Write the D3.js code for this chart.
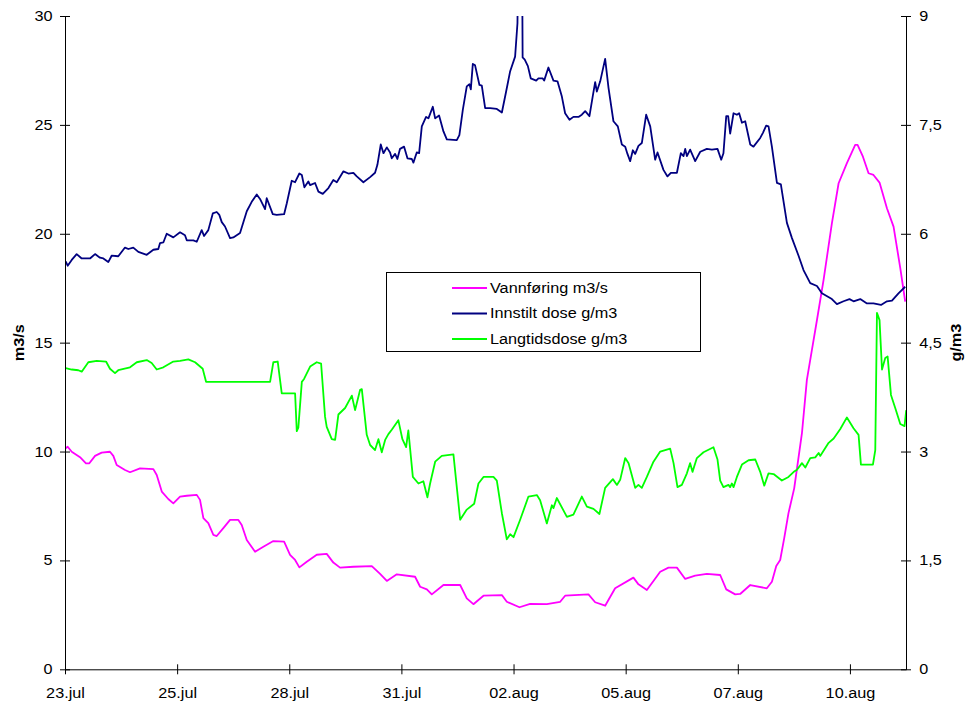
<!DOCTYPE html>
<html>
<head>
<meta charset="utf-8">
<script src="https://cdn.jsdelivr.net/npm/d3@7"></script>
<style>
  body { margin: 0; background: #fff; }
  svg { display: block; }
</style>
</head>
<body>
<div id="chart"></div>
<script>
// Vannføring og dosering, 23.jul - 11.aug
// x = position along the category axis (100 steps between each date label)

const xLabels = ["23.jul", "25.jul", "28.jul", "31.jul", "02.aug", "05.aug", "07.aug", "10.aug"];
const xTickPos = [0, 100, 200, 300, 400, 500, 600, 700];
const leftTicks = [0, 5, 10, 15, 20, 25, 30];
const rightTicks = [0, 1.5, 3, 4.5, 6, 7.5, 9];
const seriesNames = ["Vannføring m3/s", "Innstilt dose g/m3", "Langtidsdose g/m3"];

// Vannføring (m3/s, left axis)
const vannforing = [
  [0.6,10.15],[2.4,10.22],[6,9.99],[13.4,9.74],[18.7,9.46],[21.7,9.46],[26.8,9.80],[32.7,9.95],[40.1,9.99],[43.1,9.80],
  [46.1,9.38],[53.5,9.15],[58,9.05],[66.9,9.23],[78.8,9.19],[81.8,8.92],[86.3,8.16],[92.1,7.82],[96.6,7.62],[102.6,7.93],
  [108.6,7.97],[117.5,8.01],[120.4,7.78],[123.4,6.94],[127.8,6.71],[132.3,6.17],[135.3,6.12],[141.2,6.48],[147.2,6.86],[154.6,6.86],
  [157.6,6.63],[162.1,5.94],[169.5,5.40],[176.9,5.63],[185.8,5.89],[195.4,5.86],[200.7,5.25],[205.2,5.02],[209,4.68],[215.6,4.94],
  [224.5,5.26],[233.4,5.30],[239.3,4.90],[245.3,4.67],[257.2,4.71],[273.6,4.74],[281,4.38],[287,4.06],[295.9,4.36],[312.2,4.25],
  [316.7,3.79],[322.7,3.67],[327.1,3.44],[337.5,3.87],[352.4,3.87],[358.3,3.26],[364.2,2.99],[373.2,3.38],[389.6,3.41],[394,3.10],
  [405.3,2.85],[414.8,3.00],[429.7,2.99],[441.6,3.10],[446,3.38],[466.8,3.44],[472.8,3.08],[481.7,2.92],[490.6,3.72],[506.9,4.21],
  [511.4,3.90],[518.9,3.64],[530.8,4.48],[538.2,4.67],[545.7,4.67],[553.1,4.15],[562,4.30],[572.4,4.38],[584.3,4.33],[589.7,3.67],
  [597.7,3.44],[602.1,3.46],[611.1,3.87],[625.9,3.72],[630.4,4.02],[634.3,4.74],[637.8,5.02],[641.4,6.02],[645.2,7.17],[650.3,8.31],
  [657.2,10.84],[661.6,13.29],[666.1,14.67],[670.6,16.04],[676.5,17.88],[683.9,20.48],[689.9,22.32],[697.3,23.24],[704.7,24.08],[706.8,24.08],
  [711.6,23.54],[716.6,22.78],[721,22.70],[726.4,22.35],[733,21.17],[738.9,20.33],[744.9,18.42],[749.3,16.88]
];

// Innstilt dose (g/m3, right axis)
const innstiltDose = [
  [0.6,5.62],[2.4,5.56],[6,5.64],[10.4,5.72],[14.9,5.66],[19.4,5.66],[22.3,5.66],[26.8,5.72],[31.2,5.67],[34.2,5.66],
  [38.6,5.61],[41.7,5.70],[47.5,5.69],[53.5,5.81],[56.5,5.79],[60.9,5.81],[65.4,5.75],[72.9,5.71],[78.8,5.78],[83.2,5.79],
  [84.7,5.87],[87.7,5.88],[90.7,6.00],[96.6,5.95],[102.6,6.02],[107,5.98],[108.6,5.91],[114.5,5.91],[117.5,5.89],[121.9,6.05],
  [124,5.97],[127.8,6.05],[131.8,6.28],[135.3,6.30],[137.6,6.26],[139.8,6.16],[142.7,6.10],[147.2,5.94],[150.1,5.95],[156.1,6.01],
  [162.1,6.31],[166.5,6.44],[171,6.54],[173.9,6.48],[178.4,6.34],[179.9,6.49],[185.3,6.27],[188.8,6.26],[195.4,6.27],[197.8,6.42],
  [202.2,6.73],[205.2,6.71],[209,6.83],[211.2,6.81],[213.5,6.64],[217,6.72],[218.6,6.67],[223,6.70],[226,6.58],[229.9,6.55],
  [234.9,6.63],[239.3,6.74],[242.4,6.71],[248.3,6.86],[252.7,6.83],[257.2,6.84],[260.2,6.79],[266.1,6.71],[272.1,6.78],[276.5,6.84],
  [278.6,6.95],[281.6,7.23],[284,7.11],[287,7.19],[289.9,7.12],[291.4,7.04],[294.4,7.10],[296.4,7.03],[298.8,7.17],[302.4,7.20],
  [305.4,7.04],[309.3,7.03],[310.7,6.98],[313.7,7.12],[315.8,7.11],[318.2,7.48],[322,7.61],[324.1,7.59],[328,7.75],[330.1,7.59],
  [333.6,7.63],[337.5,7.41],[340.5,7.30],[349.4,7.29],[351.7,7.36],[354.8,7.71],[358.3,8.03],[360.7,8.06],[361.9,7.99],[363.7,8.34],
  [365.7,8.32],[369.6,8.05],[371.7,8.04],[374.7,7.73],[379.1,7.73],[385.1,7.72],[389.6,7.67],[393.4,7.96],[397,8.24],[401.4,8.44],
  [403.5,8.90],[404.2,9.90],[407.6,9.90],[408.1,8.43],[410,8.40],[412.8,8.31],[415.4,8.14],[420.2,8.11],[422.2,8.14],[426.1,8.14],
  [427.3,8.11],[431.1,8.29],[435.6,8.11],[439.2,8.10],[443.1,7.89],[446,7.66],[449.9,7.57],[453.4,7.61],[457.9,7.61],[460.9,7.64],
  [463.9,7.69],[467.7,7.62],[470.7,7.90],[472.8,8.09],[474.3,7.96],[477.3,8.10],[481.7,8.41],[484.7,8.01],[489.1,7.55],[493,7.48],
  [496.6,7.23],[499.6,7.20],[501.6,7.10],[504,7.00],[506.4,7.15],[508.5,7.10],[511.4,7.21],[514.4,7.25],[518.3,7.64],[521.9,7.48],
  [526.3,7.02],[528.4,7.12],[533.7,6.88],[537.3,6.79],[540.3,6.84],[545.7,6.84],[549.2,7.11],[551.6,7.07],[553.1,7.17],[554.6,7.07],
  [557.5,7.16],[562,7.00],[566.5,7.13],[572.4,7.17],[576.9,7.16],[581.9,7.17],[585.2,7.02],[587.2,7.11],[589.7,7.62],[591.4,7.62],
  [593.2,7.38],[596.2,7.66],[599.2,7.64],[601.2,7.66],[603.7,7.53],[606.6,7.55],[611.1,7.23],[614,7.20],[620,7.32],[622.4,7.39],
  [625.3,7.49],[627.4,7.48],[630.4,7.20],[634.9,6.70],[638.4,6.68],[643.8,6.15],[648.3,5.94],[654.1,5.70],[658.6,5.50],[664.6,5.32],
  [670.6,5.28],[675,5.18],[683.9,5.10],[688.4,5.03],[694.3,5.07],[699.6,5.10],[703.2,5.07],[709.2,5.10],[715.2,5.04],[721,5.04],
  [727.7,5.02],[733,5.07],[737.5,5.08],[743.3,5.18],[749.3,5.27]
];

// Langtidsdose (g/m3, right axis)
const langtidsdose = [
  [0.6,4.15],[6,4.13],[11.9,4.12],[14.9,4.10],[20.8,4.23],[28.3,4.25],[36.6,4.24],[40.1,4.14],[44.6,4.08],[47.5,4.12],
  [58,4.16],[64,4.23],[72.9,4.26],[77.3,4.22],[81.8,4.13],[87.7,4.16],[96.6,4.24],[102.6,4.25],[110,4.27],[116,4.23],
  [122.8,4.14],[125.8,3.96],[182.9,3.96],[185.8,4.23],[189.7,4.24],[193.3,3.80],[205.2,3.80],[206.7,3.28],[208.1,3.33],[211.2,3.96],
  [213.2,4.00],[218.6,4.17],[224.5,4.23],[228.4,4.21],[231.9,3.48],[233.4,3.34],[237.9,3.17],[240.9,3.16],[243.8,3.51],[249.8,3.60],
  [255.8,3.77],[258.7,3.57],[263.2,3.85],[264.7,3.86],[269.1,3.23],[272.1,3.09],[276.5,3.02],[279.5,3.17],[282.5,2.99],[285.5,3.16],
  [288.4,3.24],[291.4,3.30],[297.3,3.43],[300.9,3.17],[304.2,3.06],[306.2,3.29],[310.2,2.65],[315.2,2.56],[319.6,2.59],[323.2,2.37],
  [325.6,2.56],[330.1,2.86],[336,2.94],[346.4,2.96],[352.4,2.06],[358.3,2.20],[364.9,2.28],[368.7,2.56],[373.2,2.65],[382.1,2.65],
  [385.1,2.60],[389.6,2.15],[394,1.79],[397,1.86],[400,1.82],[405.9,2.06],[413.3,2.38],[420.8,2.40],[423.7,2.33],[429.7,2.01],
  [434.2,2.26],[435.6,2.22],[438.6,2.36],[447.6,2.10],[453.4,2.13],[460.9,2.38],[465.4,2.24],[471.3,2.21],[476.6,2.14],[481.7,2.50],
  [488.6,2.62],[492.2,2.54],[495.1,2.61],[499.6,2.91],[502.6,2.84],[508.5,2.50],[511.4,2.54],[514.4,2.50],[518.9,2.65],[524.8,2.86],
  [530.8,3.00],[539.7,3.04],[542.7,2.84],[546.2,2.51],[550.1,2.54],[554.6,2.70],[557.5,2.84],[559.6,2.72],[563.5,2.91],[569.4,2.99],
  [578.3,3.06],[581.9,2.89],[584.3,2.60],[587.2,2.51],[591.7,2.54],[593.2,2.51],[594.7,2.56],[596.2,2.51],[599.2,2.65],[603.7,2.82],
  [609.6,2.88],[615.6,2.89],[620,2.72],[623.6,2.53],[627.4,2.70],[631.9,2.69],[639.3,2.60],[645.2,2.65],[649.9,2.72],[652.8,2.75],
  [657.2,2.84],[660.2,2.78],[664.6,2.91],[669.1,2.92],[672.1,2.98],[673.5,2.94],[681,3.12],[685.5,3.18],[691.4,3.31],[697.3,3.47],
  [703.2,3.32],[707.7,3.23],[709.8,2.82],[720.5,2.82],[722.6,3.02],[724.1,4.91],[726.4,4.81],[728.6,4.13],[731.5,4.29],[733.6,4.31],
  [736.6,3.78],[740.4,3.60],[744.9,3.38],[748.7,3.35],[750.2,3.57]
];

// Layout
const width = 966;
const height = 705;
const margin = {top: 16, right: 60, bottom: 35.7, left: 65};
const innerWidth = width - margin.left - margin.right;
const innerHeight = height - margin.top - margin.bottom;
const font = "'Liberation Sans', Arial, sans-serif";
const SX = 1.16; // the text in the original is slightly stretched sideways

// widen a text selection with textLength instead of a transform
function widen(sel) {
    sel.each(function() {
        const w = this.getComputedTextLength();
        this.setAttribute("textLength", (w * SX).toFixed(1));
        this.setAttribute("lengthAdjust", "spacingAndGlyphs");
    });
}

const svg = d3.select("#chart")
    .append("svg")
    .attr("width", width)
    .attr("height", height)
    .style("background", "#fff");

const chart = svg.append("g")
    .attr("transform", `translate(${margin.left}, ${margin.top})`);

// Scales
const xScale = d3.scaleLinear().domain([0, 750]).range([0, innerWidth]);
const yLeft = d3.scaleLinear().domain([0, 30]).range([innerHeight, 0]);
const yRight = d3.scaleLinear().domain([0, 9]).range([innerHeight, 0]);

// Clip so the spike at 02.aug is cut at the top of the plot
svg.append("defs").append("clipPath")
    .attr("id", "plot-clip")
    .append("rect")
    .attr("x", 0).attr("y", 0)
    .attr("width", innerWidth).attr("height", innerHeight);

// Lines
const plot = chart.append("g").attr("clip-path", "url(#plot-clip)");

const lineLeft = d3.line().x(d => xScale(d[0])).y(d => yLeft(d[1]));
const lineRight = d3.line().x(d => xScale(d[0])).y(d => yRight(d[1]));

const series = [
    {data: vannforing, gen: lineLeft, color: "#ff00ff"},
    {data: innstiltDose, gen: lineRight, color: "#000080"},
    {data: langtidsdose, gen: lineRight, color: "#00ff00"}
];

series.forEach(s => {
    plot.append("path")
        .datum(s.data)
        .attr("fill", "none")
        .attr("stroke", s.color)
        .attr("stroke-width", 1.8)
        .attr("stroke-linejoin", "round")
        .attr("d", s.gen);
});

// Axes - ticks cross the axis line like in Excel
function styleAxis(g) {
    g.attr("font-family", font).attr("font-size", 14);
    g.select(".domain").attr("stroke", "#000");
    g.selectAll(".tick line").attr("stroke", "#000");
    g.selectAll(".tick text").attr("fill", "#000");
}

const gx = chart.append("g")
    .attr("transform", `translate(0, ${innerHeight})`)
    .call(d3.axisBottom(xScale)
        .tickValues(xTickPos)
        .tickFormat((d, i) => xLabels[i])
        .tickSize(5)
        .tickSizeOuter(0));
styleAxis(gx);
gx.selectAll(".tick line").attr("y1", -5);
gx.selectAll(".tick text")
    .attr("y", 28.7)
    .attr("dy", 0)
    .call(widen);

const gl = chart.append("g")
    .call(d3.axisLeft(yLeft)
        .tickValues(leftTicks)
        .tickSize(5)
        .tickSizeOuter(0));
styleAxis(gl);
gl.selectAll(".tick line").attr("x1", 5);
gl.selectAll(".tick text")
    .attr("x", -12.5)
    .call(widen);

const gr = chart.append("g")
    .attr("transform", `translate(${innerWidth}, 0)`)
    .call(d3.axisRight(yRight)
        .tickValues(rightTicks)
        .tickFormat(d => String(d).replace(".", ","))
        .tickSize(5)
        .tickSizeOuter(0));
styleAxis(gr);
gr.selectAll(".tick line").attr("x1", -5);
gr.selectAll(".tick text")
    .attr("x", 13.3)
    .call(widen);

// Axis titles
svg.append("text")
    .attr("transform", `translate(24, ${margin.top + innerHeight / 2}) rotate(-90)`)
    .attr("text-anchor", "middle")
    .style("font-family", font)
    .style("font-size", "14px")
    .style("font-weight", "bold")
    .text("m3/s")
    .call(widen);

svg.append("text")
    .attr("transform", `translate(961, ${margin.top + innerHeight / 2}) rotate(-90)`)
    .attr("text-anchor", "middle")
    .style("font-family", font)
    .style("font-size", "14px")
    .style("font-weight", "bold")
    .text("g/m3")
    .call(widen);

// Legend
const legend = svg.append("g").attr("transform", "translate(386, 272)");

legend.append("rect")
    .attr("x", 0.5).attr("y", 0.5)
    .attr("width", 314).attr("height", 79)
    .attr("fill", "#fff")
    .attr("stroke", "#000")
    .attr("stroke-width", 1);

seriesNames.forEach((name, i) => {
    const yy = 16 + i * 25.5;
    legend.append("line")
        .attr("x1", 66).attr("x2", 101)
        .attr("y1", yy).attr("y2", yy)
        .attr("stroke", series[i].color)
        .attr("stroke-width", 1.8);
    legend.append("text")
        .attr("x", 104)
        .attr("y", yy)
        .attr("dy", "0.35em")
        .style("font-family", font)
        .style("font-size", "14px")
        .text(name)
        .call(widen);
});
</script>
</body>
</html>
